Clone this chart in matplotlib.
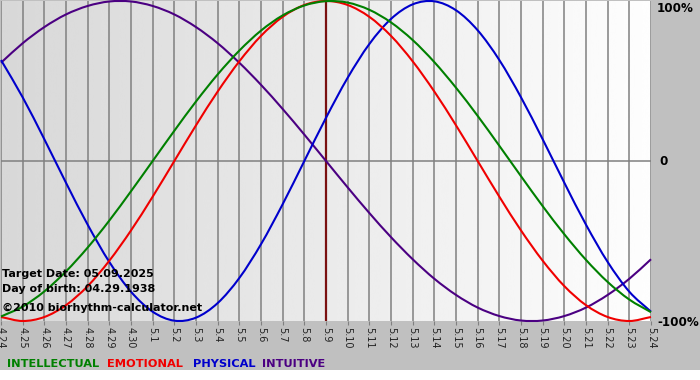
import numpy as np
import matplotlib.pyplot as plt
from matplotlib.patches import Rectangle, PathPatch
from matplotlib.path import Path

# day labels along the bottom (4.24 .. 5.24)
days = ['4.24', '4.25', '4.26', '4.27', '4.28', '4.29', '4.30',
        '5.1', '5.2', '5.3', '5.4', '5.5', '5.6', '5.7', '5.8', '5.9',
        '5.10', '5.11', '5.12', '5.13', '5.14', '5.15', '5.16', '5.17',
        '5.18', '5.19', '5.20', '5.21', '5.22', '5.23', '5.24']
target_idx = 15  # 5.9

# cycle values per day, -1 .. 1
intellectual = [-0.972, -0.910, -0.815, -0.690, -0.541, -0.372, -0.189, 0.000,
                0.189, 0.372, 0.541, 0.690, 0.815, 0.910, 0.972, 0.999,
                0.990, 0.945, 0.866, 0.756, 0.618, 0.458, 0.282, 0.095,
                -0.095, -0.282, -0.458, -0.618, -0.756, -0.866, -0.945]
emotional = [-0.975, -1.000, -0.975, -0.901, -0.782, -0.623, -0.434, -0.223,
             0.000, 0.223, 0.434, 0.623, 0.782, 0.901, 0.975, 1.000,
             0.975, 0.901, 0.782, 0.623, 0.434, 0.223, 0.000, -0.223,
             -0.434, -0.623, -0.782, -0.901, -0.975, -1.000, -0.975]
physical = [0.631, 0.398, 0.136, -0.136, -0.398, -0.631, -0.817, -0.942,
            -0.998, -0.979, -0.888, -0.731, -0.520, -0.270, 0.000, 0.270,
            0.520, 0.731, 0.888, 0.979, 0.998, 0.942, 0.817, 0.631,
            0.398, 0.136, -0.136, -0.398, -0.631, -0.817, -0.942]
intuitive = [0.614, 0.736, 0.837, 0.916, 0.969, 0.997, 0.997, 0.969,
             0.916, 0.837, 0.736, 0.614, 0.476, 0.325, 0.165, 0.000,
             -0.165, -0.325, -0.476, -0.614, -0.736, -0.837, -0.916, -0.969,
             -0.997, -0.997, -0.969, -0.916, -0.837, -0.736, -0.614]

series = [('INTUITIVE', intuitive, '#4b0082'),
          ('PHYSICAL', physical, '#0000cc'),
          ('EMOTIONAL', emotional, '#f00000'),
          ('INTELLECTUAL', intellectual, '#008000')]

W, H = 700, 380
fig = plt.figure(figsize=(7, 3.8), dpi=100)
fig.patch.set_facecolor('white')

# background panel (pixel coords)
bg = fig.add_axes([0, 0, 1, 1])
bg.axis('off')
bg.add_patch(Rectangle((0, 0), 700, 370, color='#c0c0c0', lw=0))
grad = np.linspace(0.95, 0.77, 256).reshape(1, -1)
bg.imshow(grad, cmap='gray', vmin=0, vmax=1, extent=(0, 700, 370, 321),
          aspect='auto', interpolation='bicubic')
bg.set_xlim(0, 700)
bg.set_ylim(380, 0)

# plot area
ax = fig.add_axes([1 / W, 1 - 321 / H, 650 / W, 320 / H])
ax.set_facecolor('none')
pgrad = np.linspace(0.845, 0.995, 256).reshape(1, -1)
ax.imshow(pgrad, cmap='gray', vmin=0, vmax=1, extent=(0, 30, -1, 1),
          aspect='auto', interpolation='bicubic', zorder=0)
ax.set_xlim(0, 30)
ax.set_ylim(-1, 1)
for s in ax.spines.values():
    s.set_visible(False)

x = np.arange(len(days))
ax.vlines(x, -1, 1, color='#808080', lw=1.1, zorder=1)
ax.axhline(0, color='#808080', lw=1.1, zorder=1)
ax.axvline(target_idx, color='#7a1010', lw=1.6, zorder=2)


def smooth_line(xs, ys):
    # cubic bezier through the daily points (smooth rendering)
    ys = np.asarray(ys, float)
    m = np.gradient(ys)
    verts = [(xs[0], ys[0])]
    codes = [Path.MOVETO]
    for i in range(len(xs) - 1):
        verts += [(xs[i] + 1 / 3, ys[i] + m[i] / 3),
                  (xs[i + 1] - 1 / 3, ys[i + 1] - m[i + 1] / 3),
                  (xs[i + 1], ys[i + 1])]
        codes += [Path.CURVE4] * 3
    return Path(verts, codes)


for name, vals, col in series:
    ax.add_patch(PathPatch(smooth_line(x, vals), fill=False, edgecolor=col,
                           lw=1.5, zorder=3, clip_on=False))

ax.set_xticks(x)
ax.set_xticklabels(days, rotation=270, fontsize=7, color='#222222')
ax.tick_params(axis='x', length=3, color='#808080', pad=1)
ax.set_yticks([])


def px(xp, yp, s, **kw):
    fig.text(xp / W, 1 - yp / H, s, **kw)


# info text
info = dict(fontsize=8, fontweight='bold', color='black', va='baseline')
px(2, 277, 'Target Date: 05.09.2025', **info)
px(2, 292, 'Day of birth: 04.29.1938', **info)
px(2, 311, '\u00a92010 biorhythm-calculator.net', **info)

# right scale labels
scale = dict(info, fontsize=8.6)
px(657, 12, '100%', **scale)
px(659, 165, '0', **scale)
px(657, 326, '-100%', **scale)

# legend row
leg_x = {'INTELLECTUAL': 7, 'EMOTIONAL': 107, 'PHYSICAL': 193, 'INTUITIVE': 262}
for name, vals, col in series:
    px(leg_x[name], 367, name, fontsize=8.2, fontweight='bold', color=col,
       va='baseline')

fig.savefig('out.png', dpi=100)
